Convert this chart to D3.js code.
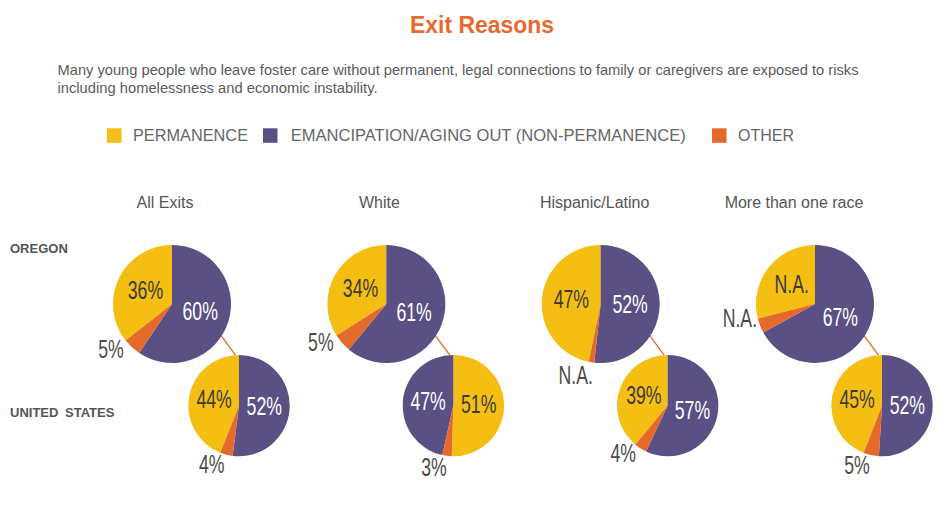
<!DOCTYPE html>
<html>
<head>
<meta charset="utf-8">
<script src="https://cdn.jsdelivr.net/npm/d3@7"></script>
<style>
  html, body { margin: 0; padding: 0; background: #fff; }
  svg { display: block; }
</style>
</head>
<body>
<div id="chart"></div>
<script>
// ---------------- DATA ----------------
const titleText = "Exit Reasons";
const subtitleLines = [
  "Many young people who leave foster care without permanent, legal connections to family or caregivers are exposed to risks",
  "including homelessness and economic instability."
];
const categories = ["PERMANENCE", "EMANCIPATION/AGING OUT (NON-PERMANENCE)", "OTHER"];
const columns = ["All Exits", "White", "Hispanic/Latino", "More than one race"];
const rows = ["OREGON", "UNITED STATES"];

// Oregon
const oregonPermanence   = [36, 34, 47, 29];
const oregonEmancipation = [60, 61, 52, 67];
const oregonOther        = [5, 5, 1.5, 4];
const oregonPermanenceLabel   = ["36%", "34%", "47%", "N.A."];
const oregonEmancipationLabel = ["60%", "61%", "52%", "67%"];
const oregonOtherLabel        = ["5%", "5%", "N.A.", "N.A."];

// United States
const usPermanence   = [44, 51, 39, 45];
const usEmancipation = [52, 47, 57, 52];
const usOther        = [4, 3, 4, 5];
const usPermanenceLabel   = ["44%", "51%", "39%", "45%"];
const usEmancipationLabel = ["52%", "47%", "57%", "52%"];
const usOtherLabel        = ["4%", "3%", "4%", "5%"];

// clockwise order of slices starting at 12 o'clock (as drawn in the source)
const defaultOrder = ["EMANCIPATION/AGING OUT (NON-PERMANENCE)", "OTHER", "PERMANENCE"];
const swappedOrder = ["PERMANENCE", "OTHER", "EMANCIPATION/AGING OUT (NON-PERMANENCE)"];
const oregonOrder = [defaultOrder, defaultOrder, defaultOrder, defaultOrder];
const usOrder     = [defaultOrder, swappedOrder, defaultOrder, defaultOrder];

// ---------------- STYLE / LAYOUT ----------------
const W = 950, H = 519;
const colors = d3.scaleOrdinal(categories, ["#F4BE12", "#5A5084", "#E4692A"]);
const labelColor = d3.scaleOrdinal(categories, ["#3b3b3b", "#ffffff", "#4a4a4a"]);
const titleDx = [-7, -7, -6, -21];
const subtitleLen = [801, 320];
const legendLen = [115, 395, 56];

const svg = d3.select("#chart").append("svg")
  .attr("width", W).attr("height", H)
  .attr("viewBox", `0 0 ${W} ${H}`);

// Title
svg.append("text")
  .attr("x", 482).attr("y", 33.3)
  .attr("text-anchor", "middle")
  .attr("font-family", "'Liberation Sans', Arial, sans-serif")
  .attr("font-weight", "bold")
  .attr("font-size", 23)
  .attr("fill", "#E8692D")
  .attr("textLength", 144).attr("lengthAdjust", "spacingAndGlyphs")
  .text(titleText);

// Subtitle
svg.append("g").selectAll("text").data(subtitleLines).join("text")
  .attr("x", 57.5)
  .attr("y", (d, i) => 74.5 + i * 18)
  .attr("font-family", "'Liberation Sans', Arial, sans-serif")
  .attr("font-size", 14.4)
  .attr("fill", "#5a5a5a")
  .attr("textLength", (d, i) => subtitleLen[i]).attr("lengthAdjust", "spacingAndGlyphs")
  .text(d => d);

// Legend
const legendX = d3.scaleOrdinal(categories, [107, 263, 712]);
const legend = svg.append("g").selectAll("g").data(categories).join("g")
  .attr("transform", d => `translate(${legendX(d)},128.3)`);
legend.append("rect")
  .attr("width", 14.5).attr("height", 14.5)
  .attr("fill", d => colors(d));
legend.append("text")
  .attr("x", (d, i) => i === 1 ? 27.7 : 26)
  .attr("y", 13)
  .attr("font-family", "'Liberation Sans', Arial, sans-serif")
  .attr("font-size", 16.2)
  .attr("fill", "#666")
  .attr("textLength", (d, i) => legendLen[i]).attr("lengthAdjust", "spacingAndGlyphs")
  .text(d => d);

// Column titles
const colX = d3.scalePoint().domain(columns).range([172, 815]);
svg.append("g").selectAll("text").data(columns).join("text")
  .attr("x", (d, i) => colX(d) + titleDx[i])
  .attr("y", 208.3)
  .attr("text-anchor", "middle")
  .attr("font-family", "'Liberation Sans', Arial, sans-serif")
  .attr("font-size", 16)
  .attr("fill", "#555")
  .text(d => d);

// Row labels
const rowLabelY = d3.scaleOrdinal(rows, [253.3, 417.3]);
svg.append("g").selectAll("text").data(rows).join("text")
  .attr("x", 10)
  .attr("y", d => rowLabelY(d))
  .attr("font-family", "'Liberation Sans', Arial, sans-serif")
  .attr("font-weight", "bold")
  .attr("font-size", 13)
  .attr("fill", "#555")
  .attr("word-spacing", 3)
  .text(d => d);

// Pies
const rowY = d3.scaleOrdinal(rows, [304, 405.6]);
const rowDx = d3.scaleOrdinal(rows, [0, 67]);
const rowR = d3.scaleOrdinal(rows, [59, 50.7]);

function pieData(row, i) {
  const isOR = row === "OREGON";
  const vals = isOR ? [oregonPermanence[i], oregonEmancipation[i], oregonOther[i]]
                    : [usPermanence[i], usEmancipation[i], usOther[i]];
  const labs = isOR ? [oregonPermanenceLabel[i], oregonEmancipationLabel[i], oregonOtherLabel[i]]
                    : [usPermanenceLabel[i], usEmancipationLabel[i], usOtherLabel[i]];
  const order = isOR ? oregonOrder[i] : usOrder[i];
  return categories.map((c, k) => ({ cat: c, value: vals[k], label: labs[k], rank: order.indexOf(c) }));
}

const pieGen = d3.pie().value(d => d.value).sort((a, b) => a.rank - b.rank);

const connectorG = svg.append("g");
const pieLayer = svg.append("g");
const labelLayer = svg.append("g");

const toXY = (cx, cy, a, r) => [cx + r * Math.sin(a), cy - r * Math.cos(a)];

columns.forEach((col, i) => {
  // connector line between the two pies
  const orC = [colX(col) + rowDx("OREGON"), rowY("OREGON")];
  const usC = [colX(col) + rowDx("UNITED STATES"), rowY("UNITED STATES")];
  const p1 = toXY(orC[0], orC[1], 123 * Math.PI / 180, rowR("OREGON"));
  const p2 = toXY(usC[0], usC[1], -4 * Math.PI / 180, rowR("UNITED STATES"));
  connectorG.append("line")
    .attr("x1", p1[0]).attr("y1", p1[1]).attr("x2", p2[0]).attr("y2", p2[1])
    .attr("stroke", "#E4692A").attr("stroke-width", 1.3);

  rows.forEach(row => {
    const cx = colX(col) + rowDx(row), cy = rowY(row), r = rowR(row);
    const arcs = pieGen(pieData(row, i));
    const arc = d3.arc().innerRadius(0).outerRadius(r);
    const g = pieLayer.append("g").attr("transform", `translate(${cx},${cy})`);
    g.selectAll("path").data(arcs).join("path")
      .attr("d", arc)
      .attr("fill", d => colors(d.data.cat));

    const lg = labelLayer.append("g").attr("transform", `translate(${cx},${cy})`);
    arcs.forEach(d => {
      let pos;
      if (d.data.cat === "OTHER") {
        const a = (d.startAngle + d.endAngle) / 2 + 10 * Math.PI / 180;
        pos = toXY(0, 0, a, r * 1.3);
      } else {
        const a = (d.startAngle + d.endAngle) / 2;
        pos = toXY(0, 0, a, r * 0.5);
      }
      lg.append("text")
        .attr("transform", `translate(${pos[0]},${pos[1] - 2}) scale(0.68,1)`)
        .attr("text-anchor", "middle")
        .attr("dy", "0.36em")
        .attr("font-family", "'Liberation Sans Narrow', 'Liberation Sans', Arial, sans-serif")
        .attr("font-size", 26)
        .attr("fill", labelColor(d.data.cat))
        .text(d.data.label);
    });
  });
});
</script>
</body>
</html>
